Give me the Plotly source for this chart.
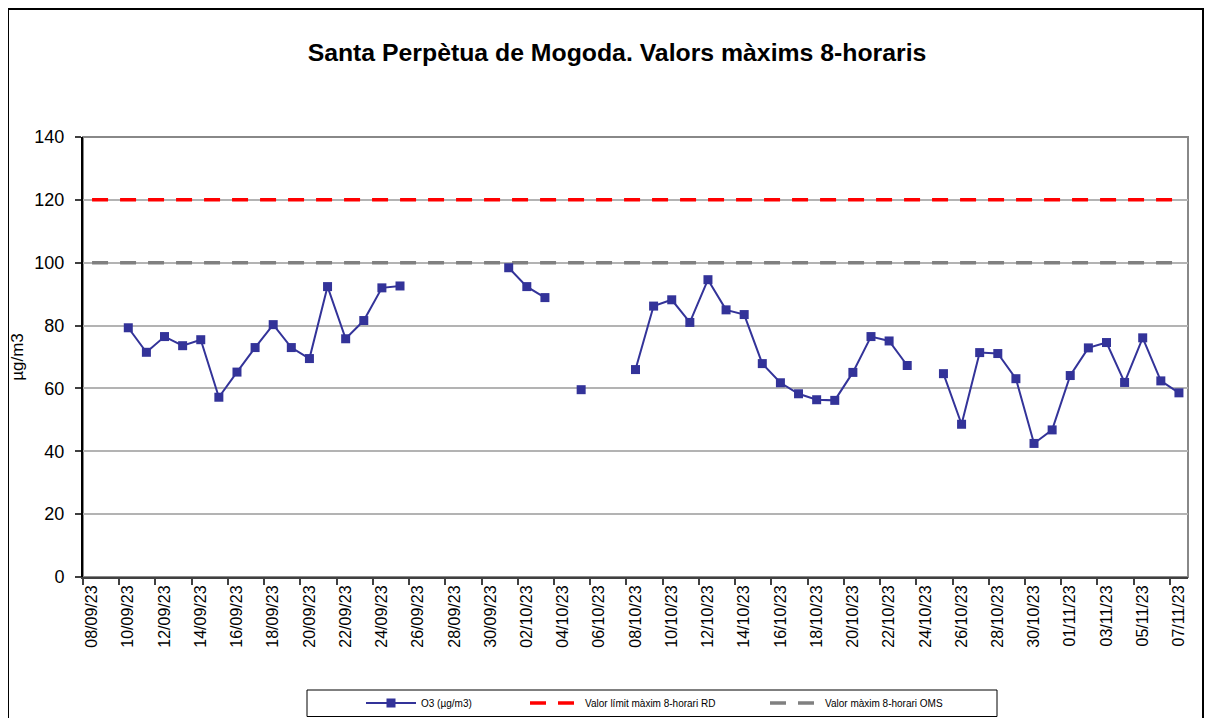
import plotly.graph_objects as go

# Categories: daily dates 08/09/2023 .. 07/11/2023
dates = [
    "2023-09-08", "2023-09-09", "2023-09-10", "2023-09-11", "2023-09-12", "2023-09-13",
    "2023-09-14", "2023-09-15", "2023-09-16", "2023-09-17", "2023-09-18", "2023-09-19",
    "2023-09-20", "2023-09-21", "2023-09-22", "2023-09-23", "2023-09-24", "2023-09-25",
    "2023-09-26", "2023-09-27", "2023-09-28", "2023-09-29", "2023-09-30",
    "2023-10-01", "2023-10-02", "2023-10-03", "2023-10-04", "2023-10-05", "2023-10-06",
    "2023-10-07", "2023-10-08", "2023-10-09", "2023-10-10", "2023-10-11", "2023-10-12",
    "2023-10-13", "2023-10-14", "2023-10-15", "2023-10-16", "2023-10-17", "2023-10-18",
    "2023-10-19", "2023-10-20", "2023-10-21", "2023-10-22", "2023-10-23", "2023-10-24",
    "2023-10-25", "2023-10-26", "2023-10-27", "2023-10-28", "2023-10-29", "2023-10-30",
    "2023-10-31", "2023-11-01", "2023-11-02", "2023-11-03", "2023-11-04", "2023-11-05",
    "2023-11-06", "2023-11-07",
]

# O3 8-hour maximum values (µg/m3); None = no data
o3 = [
    None, None, 79.3, 71.5, 76.5, 73.6,
    75.5, 57.2, 65.2, 73.0, 80.3, 73.0,
    69.5, 92.4, 75.8, 81.6, 92.0, 92.6,
    None, None, None, None, None,
    98.4, 92.4, 88.9, None, 59.6, None,
    None, 66.0, 86.2, 88.2, 81.0, 94.6,
    85.0, 83.5, 67.9, 61.8, 58.3, 56.4,
    56.2, 65.1, 76.5, 75.1, 67.3, None,
    64.7, 48.6, 71.4, 71.1, 63.1, 42.5,
    46.8, 64.1, 72.9, 74.6, 61.9, 76.1,
    62.4, 58.6,
]

limit_rd = [120] * len(dates)
limit_oms = [100] * len(dates)

tick_dates = dates[::2]
tick_text = [d[8:10] + "/" + d[5:7] + "/" + d[2:4] for d in tick_dates]

y_ticks = [0, 20, 40, 60, 80, 100, 120, 140]

FONT = "Liberation Sans, Arial, sans-serif"
BLUE = "#333399"

fig = go.Figure()

fig.add_trace(go.Scatter(
    x=dates, y=limit_rd, mode="lines", name="Valor límit màxim 8-horari RD",
    line=dict(color="#ff0000", width=3.5, dash="16px,12px"),
    legend="legend2", hoverinfo="skip",
))
fig.add_trace(go.Scatter(
    x=dates, y=limit_oms, mode="lines", name="Valor màxim 8-horari OMS",
    line=dict(color="#808080", width=3.5, dash="16px,12px"),
    legend="legend3", hoverinfo="skip",
))
fig.add_trace(go.Scatter(
    x=dates, y=o3, mode="lines+markers", name="O3 (µg/m3)",
    line=dict(color=BLUE, width=2),
    marker=dict(symbol="square", size=9, color=BLUE),
    connectgaps=False, legend="legend",
))

# Page offset (browser body margin) and figure size
OFF = 8
FW, FH = 1212 - OFF, 718 - OFF
# Plot-area geometry in figure pixels
L, R, T, B = 75, 24, 129, 141
W = FW - L - R
H = FH - T - B


def px_x(sx):
    """screen x -> paper x"""
    return (sx - OFF - L) / W


def px_y(sy):
    """screen y -> paper y"""
    return (FH - B - (sy - OFF)) / H


legend_common = dict(
    xanchor="left", y=px_y(703), yanchor="middle",
    orientation="h", font=dict(size=10, family=FONT),
    bgcolor="rgba(0,0,0,0)", itemwidth=50,
)

fig.update_layout(
    width=FW, height=FH,
    margin=dict(l=L, r=R, t=T, b=B, autoexpand=False),
    paper_bgcolor="white", plot_bgcolor="white",
    font=dict(family=FONT, color="black"),
    title=dict(
        text="<b>Santa Perpètua de Mogoda. Valors màxims 8-horaris</b>",
        x=px_x(617), xanchor="center", xref="paper",
        y=1 - (52 - OFF) / FH, yanchor="middle",
        font=dict(size=24.8, family=FONT, color="black"),
    ),
    showlegend=True,
    legend=dict(x=px_x(361), **legend_common),
    legend2=dict(x=px_x(525), **legend_common),
    legend3=dict(x=px_x(765), **legend_common),
    xaxis=dict(
        type="date", automargin=False,
        range=["2023-09-07 12:00", "2023-11-07 12:00"],
        tickmode="array", tickvals=tick_dates, ticktext=tick_text,
        tickangle=-90, tickfont=dict(size=16, family=FONT),
        ticks="", showgrid=False,
        showline=True, linecolor="#404040", linewidth=2,
        mirror=False, zeroline=False,
        minor=dict(
            tickmode="array",
            tickvals=[d + " 12:00" for d in ["2023-09-07"] + dates[1::2]],
            ticks="outside", ticklen=6, tickcolor="#404040", tickwidth=1.5,
            showgrid=False,
        ),
    ),
    yaxis=dict(
        range=[0, 140], tickmode="array", tickvals=y_ticks, automargin=False,
        tickfont=dict(size=18, family=FONT), ticklabelstandoff=7,
        ticks="outside", ticklen=6, tickcolor="#404040", tickwidth=1.5,
        showgrid=True, gridcolor="#b3b3b3", gridwidth=1.5,
        showline=True, linecolor="black", linewidth=2,
        zeroline=False,
        title=dict(text="µg/m3", font=dict(size=17, family=FONT), standoff=8),
    ),
    shapes=[
        # plot area border (top/right)
        dict(type="rect", xref="paper", yref="paper", x0=0, x1=1, y0=0, y1=1,
             line=dict(color="#888888", width=2), layer="below"),
        # outer chart frame
        dict(type="rect", xref="paper", yref="paper",
             x0=px_x(8), x1=px_x(1203), y0=px_y(740), y1=px_y(9),
             line=dict(color="black", width=2)),
        # legend box
        dict(type="rect", xref="paper", yref="paper",
             x0=px_x(307), x1=px_x(997), y0=px_y(716.5), y1=px_y(690),
             line=dict(color="black", width=1)),
    ],
)

fig.write_html("out.html")
